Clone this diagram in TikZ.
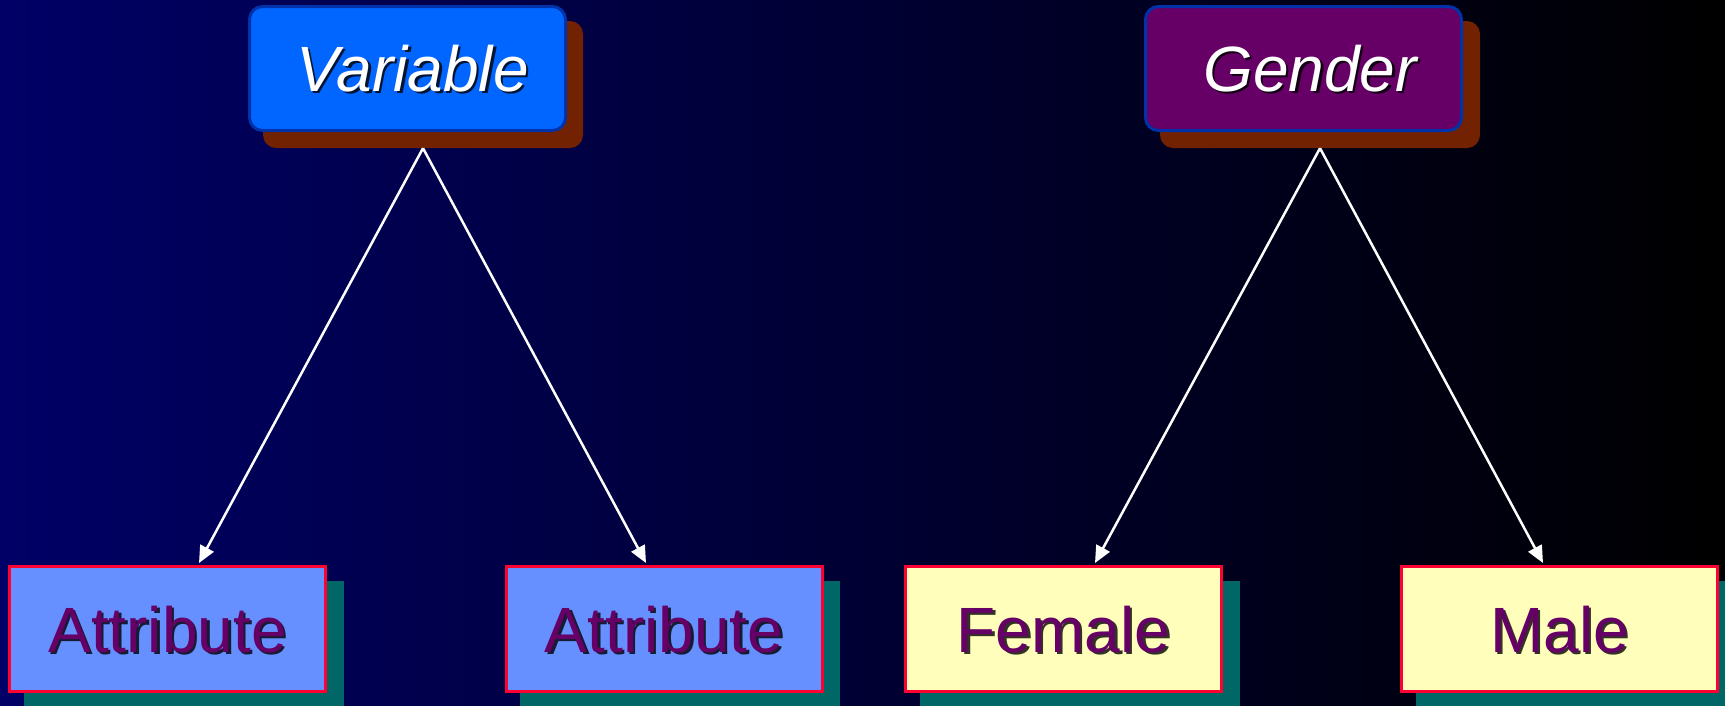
\documentclass[tikz,border=0pt]{standalone}
\usepackage{fontspec}
\setmainfont{Liberation Sans}
\usetikzlibrary{arrows.meta}
\definecolor{bgleft}{RGB}{0,0,102}
\definecolor{topblue}{RGB}{0,102,255}
\definecolor{topborder}{RGB}{0,51,170}
\definecolor{topshadow}{RGB}{114,34,0}
\definecolor{gendfill}{RGB}{102,0,102}
\definecolor{attrfill}{RGB}{102,144,255}
\definecolor{leafborder}{RGB}{255,0,51}
\definecolor{leafshadow}{RGB}{0,102,102}
\definecolor{yellowfill}{RGB}{255,255,187}
\definecolor{purpletext}{RGB}{102,0,102}
\begin{document}
\begin{tikzpicture}[x=1pt,y=-1pt,
  topbox/.style={draw=topborder, line width=3pt, rounded corners=13pt,
    minimum width=316pt, minimum height=124pt, inner sep=0pt},
  topshad/.style={fill=topshadow, rounded corners=13pt,
    minimum width=320pt, minimum height=127pt, inner sep=0pt},
  leafbox/.style={draw=leafborder, line width=3pt,
    minimum width=316pt, minimum height=125pt, inner sep=0pt},
  leafshad/.style={fill=leafshadow,
    minimum width=320pt, minimum height=128pt, inner sep=0pt},
  toptext/.style={text=white, font=\fontsize{64}{70}\selectfont\itshape, inner sep=0pt},
  leaftext/.style={text=purpletext, font=\fontsize{64}{70}\selectfont, inner sep=0pt},
  txtshadow/.style={text=black, text opacity=0.8},
  conn/.style={draw=white, line width=2.5pt, -{Triangle[length=17pt,width=15pt]}}
]
\useasboundingbox (0,0) rectangle (1725,705);
\shade[left color=bgleft, right color=black] (0,0) rectangle (1725,705);

% top nodes
\node[topshad] (vs) at (423,84.5) {};
\node[topbox, fill=topblue] (v) at (407.5,68.5) {};
\node[toptext, txtshadow] (vtsh) at (415,71) {Variable};
\node[toptext] (vt) at (412.5,68.5) {Variable};

\node[topshad] (gs) at (1320,84.5) {};
\node[topbox, fill=gendfill] (g) at (1303.5,68.5) {};
\node[toptext, txtshadow] (gtsh) at (1312.5,71) {Gender};
\node[toptext] (gt) at (1310,68.5) {Gender};

% leaf nodes
\node[leafshad] (a1s) at (184,645) {};
\node[leafbox, fill=attrfill] (a1) at (167.5,629) {};
\node[leaftext, txtshadow] (a1tsh) at (170,632) {Attribute};
\node[leaftext] (a1t) at (167.5,629.5) {Attribute};

\node[leafshad] (a2s) at (680,645) {};
\node[leafbox, fill=attrfill] (a2) at (664,629) {};
\node[leaftext, txtshadow] (a2tsh) at (666.5,632) {Attribute};
\node[leaftext] (a2t) at (664,629.5) {Attribute};

\node[leafshad] (fs) at (1079.5,645) {};
\node[leafbox, fill=yellowfill] (f) at (1063.5,629) {};
\node[leaftext, txtshadow] (ftsh) at (1066,632) {Female};
\node[leaftext] (ft) at (1063.5,629.5) {Female};

\node[leafshad] (ms) at (1576,645) {};
\node[leafbox, fill=yellowfill] (m) at (1559.5,629) {};
\node[leaftext, txtshadow] (mtsh) at (1562,632) {Male};
\node[leaftext] (mt) at (1559.5,629.5) {Male};

% arrow end points
\coordinate (a1in) at (199,563);
\coordinate (a2in) at (646,563);
\coordinate (fin) at (1095,563);
\coordinate (min) at (1543,563);

\draw[conn] (vs.south) -- (a1in);
\draw[conn] (vs.south) -- (a2in);
\draw[conn] (gs.south) -- (fin);
\draw[conn] (gs.south) -- (min);
\end{tikzpicture}
\end{document}
